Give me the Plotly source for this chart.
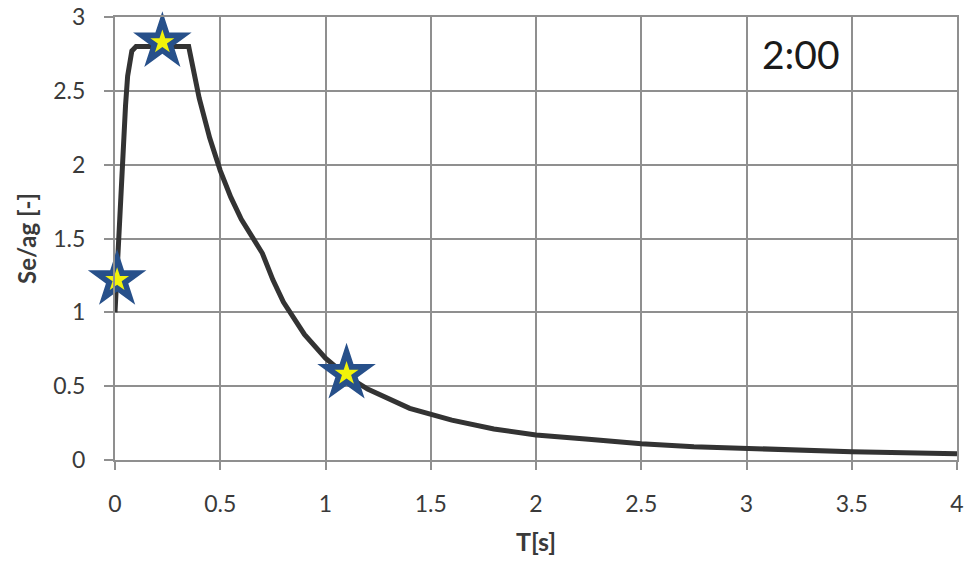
import plotly.graph_objects as go

# Elastic response spectrum, normalised by ground acceleration
period_s = [0.0, 0.01, 0.02, 0.03, 0.04, 0.05, 0.06, 0.08, 0.1, 0.35, 0.4, 0.45,
            0.5, 0.55, 0.6, 0.65, 0.7, 0.75, 0.8, 0.9, 1.0, 1.1, 1.2, 1.4, 1.6,
            1.8, 2.0, 2.25, 2.5, 2.75, 3.0, 3.25, 3.5, 3.75, 4.0]
se_ag = [1.0, 1.3, 1.6, 1.9, 2.15, 2.4, 2.6, 2.77, 2.8, 2.8, 2.45, 2.18,
         1.96, 1.78, 1.63, 1.51, 1.40, 1.22, 1.07, 0.85, 0.69, 0.57, 0.48, 0.35, 0.27,
         0.21, 0.17, 0.14, 0.11, 0.09, 0.076, 0.065, 0.056, 0.049, 0.043]

# Highlighted points on the spectrum
star_t = [0.01, 0.225, 1.1]
star_v = [1.22, 2.83, 0.585]

x_ticks = [0, 0.5, 1, 1.5, 2, 2.5, 3, 3.5, 4]
x_tick_text = ["0", "0.5", "1", "1.5", "2", "2.5", "3", "3.5", "4"]
y_ticks = [0, 0.5, 1, 1.5, 2, 2.5, 3]
y_tick_text = ["0", "0.5", "1", "1.5", "2", "2.5", "3"]

FONT = "Lato"
GRID = "#8f8f8f"
TEXT = "#3a3a3a"

fig = go.Figure()
fig.add_trace(go.Scatter(
    x=period_s, y=se_ag, mode="lines",
    line=dict(color="#333333", width=5), hoverinfo="skip", showlegend=False,
))
fig.add_trace(go.Scatter(
    x=star_t, y=star_v, mode="markers", cliponaxis=False,
    marker=dict(symbol="star", size=44, color="#27508a", line=dict(width=0)),
    showlegend=False,
))
fig.add_trace(go.Scatter(
    x=star_t, y=star_v, mode="markers", cliponaxis=False,
    marker=dict(symbol="star", size=18, color="#f2f20a", line=dict(width=0)),
    showlegend=False,
))

fig.add_annotation(
    x=3.26, y=2.75, xref="x", yref="y", text="2:00", showarrow=False,
    font=dict(family=FONT, size=39, color="#1a1a1a"),
)

fig.update_layout(
    width=967, height=564,
    margin=dict(l=115, r=10, t=17, b=104),
    paper_bgcolor="white", plot_bgcolor="white",
    font=dict(family=FONT, color=TEXT),
    xaxis=dict(
        range=[0, 4], tickvals=x_ticks, ticktext=x_tick_text, automargin=False,
        showgrid=True, gridcolor=GRID, gridwidth=2,
        showline=True, linecolor=GRID, linewidth=2, mirror=True,
        ticks="outside", ticklen=8, tickwidth=2, tickcolor=GRID,
        ticklabelstandoff=14, ticklabeloverflow="allow",
        tickfont=dict(family=FONT, size=23, color=TEXT),
        zeroline=False,
        title=dict(text="<b>T[s]</b>", font=dict(family=FONT, size=25, color=TEXT),
                   standoff=18),
    ),
    yaxis=dict(
        range=[0, 3], tickvals=y_ticks, ticktext=y_tick_text, automargin=False,
        showgrid=True, gridcolor=GRID, gridwidth=2,
        showline=True, linecolor=GRID, linewidth=2, mirror=True,
        ticks="outside", ticklen=9, tickwidth=2, tickcolor=GRID,
        ticklabelstandoff=14, ticklabeloverflow="allow",
        tickfont=dict(family=FONT, size=23, color=TEXT),
        zeroline=False,
        title=dict(text="<b>Se/ag [-]</b>", font=dict(family=FONT, size=24, color=TEXT),
                   standoff=10),
    ),
)

fig.write_html("out.html")
